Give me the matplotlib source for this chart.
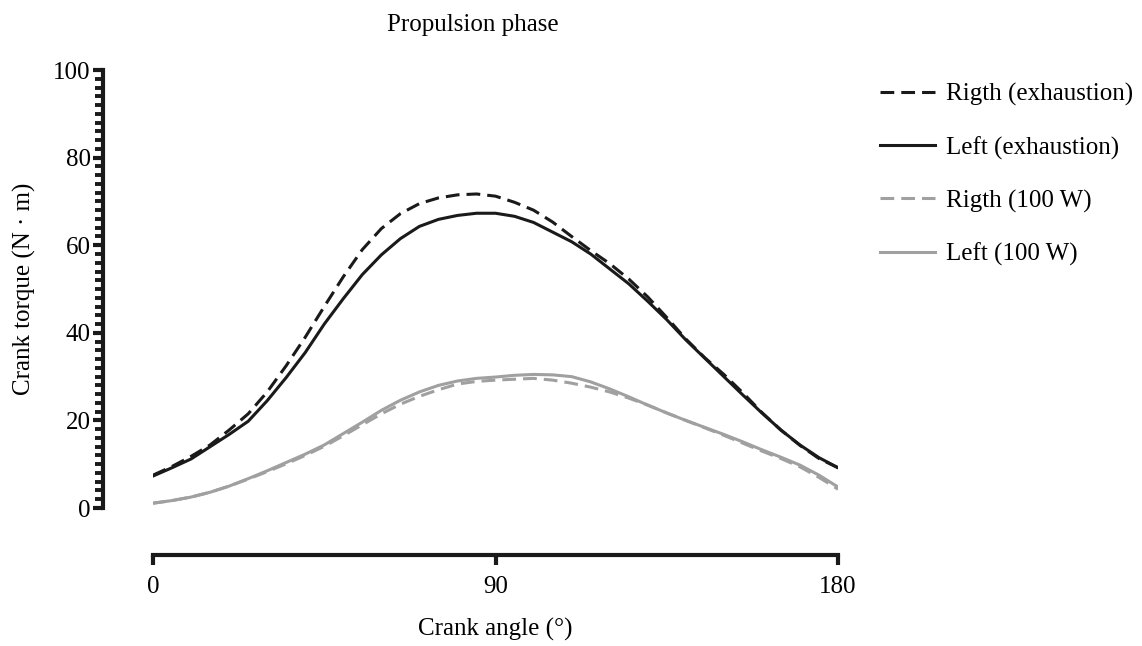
import matplotlib
matplotlib.use("Agg")
import matplotlib.pyplot as plt
from matplotlib.ticker import MultipleLocator
import numpy as np

plt.rcParams['font.family'] = ['Liberation Serif', 'DejaVu Serif']

# crank angle (deg), propulsion phase
angle = list(range(0, 181, 5))
# crank torque (N.m)
right_exh = [7.5, 9.5, 11.8, 14.4, 17.8, 21.5, 26.5, 32.5, 39.0, 46.0, 52.8, 59.0, 63.8,
             67.2, 69.5, 70.8, 71.5, 71.7, 71.2, 69.8, 68.0, 65.3, 62.0, 58.8, 55.8, 52.3,
             48.2, 43.5, 38.6, 34.3, 30.5, 26.3, 21.8, 17.8, 14.3, 11.3, 9.2]
left_exh = [7.3, 9.2, 11.2, 14.0, 16.8, 19.8, 24.5, 29.8, 35.5, 42.0, 47.8, 53.3, 57.8,
            61.5, 64.3, 65.9, 66.8, 67.3, 67.3, 66.6, 65.2, 63.0, 60.8, 58.0, 54.6, 51.2,
            47.2, 43.0, 38.4, 34.2, 30.0, 25.8, 21.7, 17.8, 14.4, 11.5, 9.2]
right_100 = [1.1, 1.7, 2.5, 3.6, 5.0, 6.6, 8.3, 10.1, 12.0, 14.1, 16.5, 19.0, 21.5,
             23.7, 25.5, 27.0, 28.3, 28.9, 29.2, 29.4, 29.6, 29.2, 28.5, 27.6, 26.5, 25.1,
             23.5, 21.7, 20.0, 18.3, 16.6, 14.8, 13.0, 11.3, 9.4, 7.0, 4.3]
left_100 = [1.1, 1.7, 2.5, 3.6, 5.0, 6.7, 8.5, 10.4, 12.3, 14.4, 17.0, 19.6, 22.3,
            24.6, 26.5, 28.0, 29.0, 29.6, 29.9, 30.3, 30.5, 30.4, 30.0, 28.8, 27.2, 25.4,
            23.5, 21.7, 20.0, 18.4, 16.8, 15.1, 13.3, 11.6, 9.8, 7.5, 4.8]

black = '#1a1a1a'
grey = '#a0a0a0'
fs = 18

fig = plt.figure(figsize=(11.42, 6.46), dpi=100)
ax = fig.add_axes([0.134, 0.2136, 0.5998, 0.678])

dash = (0, (4.5, 2.3))
ax.plot(angle, right_exh, color=black, lw=2.2, ls=dash, label='Rigth (exhaustion)')
ax.plot(angle, left_exh, color=black, lw=2.2, label='Left (exhaustion)')
ax.plot(angle, right_100, color=grey, lw=2.2, ls=dash, label='Rigth (100 W)')
ax.plot(angle, left_100, color=grey, lw=2.2, label='Left (100 W)')

ax.set_xlim(0, 180)
ax.set_ylim(0, 100)
ax.set_xticks([0, 90, 180])
ax.set_yticks([0, 20, 40, 60, 80, 100])
ax.yaxis.set_minor_locator(MultipleLocator(2))

for s in ['top', 'right']:
    ax.spines[s].set_visible(False)
ax.spines['left'].set_position(('outward', 36))
ax.spines['bottom'].set_position(('outward', 34))
for s in ['left', 'bottom']:
    ax.spines[s].set_linewidth(3)
    ax.spines[s].set_color(black)
ax.tick_params(axis='both', which='major', length=7, width=3, color=black,
               labelsize=fs, pad=2)
ax.tick_params(axis='x', which='major', pad=8)
ax.tick_params(axis='y', which='minor', length=5.5, width=2.8, color=black)

ax.set_xlabel('Crank angle (°)', fontsize=fs, labelpad=14)
ax.set_ylabel('Crank torque (N · m)', fontsize=fs, labelpad=12)
fig.text(473 / 1142, 1 - 25 / 646, 'Propulsion phase', fontsize=fs, ha='center', va='center')

ax.legend(loc='upper left', bbox_to_anchor=(880 / 1142, 1 - 83 / 646),
          bbox_transform=fig.transFigure, frameon=False, fontsize=fs,
          borderpad=0, borderaxespad=0,
          handlelength=2.2, handletextpad=0.45, labelspacing=1.2)

fig.savefig('out.png', dpi=100)
